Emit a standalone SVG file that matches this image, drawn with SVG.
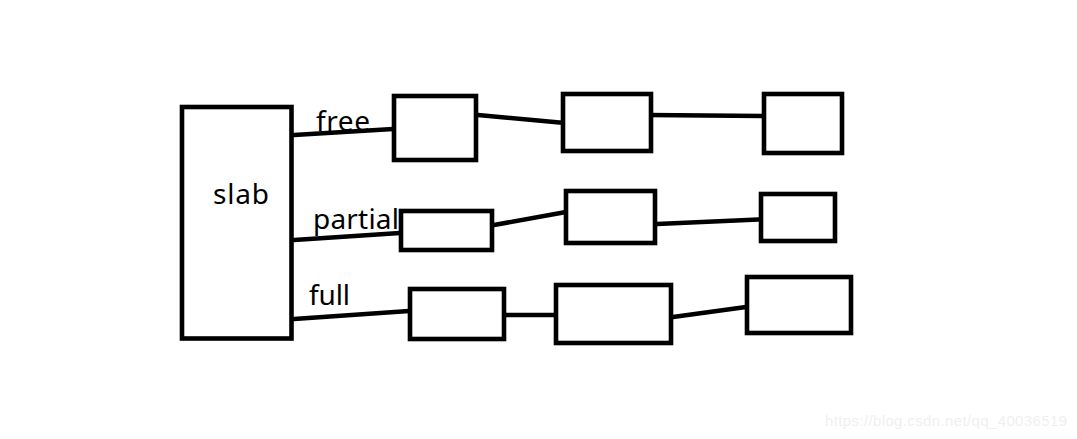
<svg xmlns="http://www.w3.org/2000/svg" width="1077" height="439" viewBox="0 0 1077 439">
<style>
.b{fill:#fff;stroke:#000;stroke-width:4.6}
.c line{stroke:#000;stroke-width:4.6;stroke-linecap:round}
.t{font-family:"Noto Sans","Liberation Sans",sans-serif;font-size:28px;fill:#000}
.w{font-family:"Liberation Sans",Arial,sans-serif;font-size:15px;fill:#efefef}
</style>
<rect width="1077" height="439" fill="#fff"/>
<g class="c" id="connectors">
<line x1="294" y1="135" x2="393" y2="129"/>
<line x1="478" y1="115" x2="565" y2="123"/>
<line x1="648" y1="115" x2="763" y2="116"/>
<line x1="294" y1="240" x2="400" y2="233"/>
<line x1="494" y1="225" x2="566" y2="212"/>
<line x1="657" y1="224" x2="768" y2="219"/>
<line x1="294" y1="319" x2="409" y2="311"/>
<line x1="506" y1="315" x2="556" y2="315"/>
<line x1="673" y1="317" x2="746" y2="307"/>
</g>
<g id="slab"><rect class="b" x="182" y="107" width="109.5" height="231.5"/><text class="t" x="213" y="204" textLength="56">slab</text></g>
<g id="lbl-free"><text class="t" x="316" y="131" textLength="54">free</text></g>
<g id="lbl-partial"><text class="t" x="313" y="229" textLength="86">partial</text></g>
<g id="lbl-full"><text class="t" x="309" y="305" textLength="41">full</text></g>
<g id="free1"><rect class="b" x="394" y="96" width="82" height="64"/></g>
<g id="free2"><rect class="b" x="563" y="94" width="88" height="57"/></g>
<g id="free3"><rect class="b" x="764" y="94" width="78" height="59"/></g>
<g id="partial1"><rect class="b" x="401" y="211" width="91" height="39"/></g>
<g id="partial2"><rect class="b" x="566" y="191" width="89" height="52"/></g>
<g id="partial3"><rect class="b" x="761" y="194" width="74" height="47"/></g>
<g id="full1"><rect class="b" x="410" y="289" width="94" height="50"/></g>
<g id="full2"><rect class="b" x="556" y="285" width="115" height="58"/></g>
<g id="full3"><rect class="b" x="747" y="277" width="104" height="56"/></g>
<text class="w" x="825" y="426" textLength="242">https://blog.csdn.net/qq_40036519</text>
</svg>
